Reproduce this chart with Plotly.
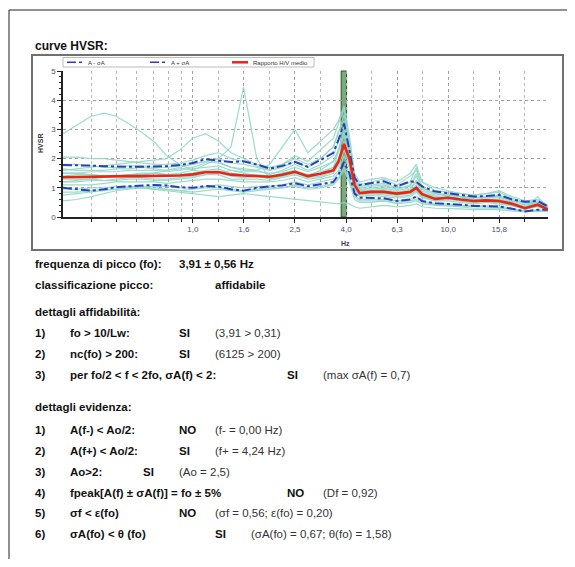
import plotly.graph_objects as go

# ---------------- data ----------------
FREQ = [0.31, 0.35, 0.40, 0.45, 0.50, 0.56, 0.63, 0.71, 0.79, 0.89, 1.0, 1.12, 1.26, 1.41, 1.58,
        1.78, 2.0, 2.24, 2.51, 2.82, 3.16, 3.55, 3.72, 3.91, 4.1, 4.3, 4.5, 5.0, 5.6, 6.3, 7.1,
        7.5, 7.9, 8.9, 10.0, 11.2, 12.6, 14.1, 15.8, 17.8, 20.0, 22.4, 24.6]

HV_MEAN = [1.36, 1.37, 1.39, 1.39, 1.40, 1.40, 1.40, 1.40, 1.40, 1.42, 1.46, 1.53, 1.54, 1.45, 1.42,
           1.41, 1.38, 1.45, 1.55, 1.40, 1.48, 1.60, 1.90, 2.50, 2.00, 1.10, 0.82, 0.86, 0.86, 0.80, 0.86,
           1.00, 0.78, 0.62, 0.66, 0.60, 0.55, 0.57, 0.55, 0.45, 0.30, 0.42, 0.26]
HV_UPPER = [1.78, 1.78, 1.76, 1.74, 1.72, 1.72, 1.72, 1.72, 1.74, 1.78, 1.85, 1.98, 1.93, 1.88, 1.91,
            1.80, 1.66, 1.75, 1.89, 1.72, 1.95, 2.20, 2.65, 3.20, 2.30, 1.35, 1.10, 1.16, 1.22, 1.05, 1.22,
            1.20, 1.05, 0.87, 0.82, 0.75, 0.70, 0.72, 0.76, 0.60, 0.52, 0.55, 0.36]
HV_LOWER = [1.00, 0.95, 0.90, 0.95, 1.02, 1.05, 1.08, 1.10, 1.08, 1.02, 1.00, 1.06, 1.04, 0.95, 0.90,
            1.00, 1.05, 1.08, 1.16, 1.05, 1.12, 1.20, 1.45, 1.89, 1.50, 0.80, 0.66, 0.64, 0.64, 0.55, 0.60,
            0.70, 0.55, 0.47, 0.45, 0.42, 0.38, 0.36, 0.36, 0.28, 0.19, 0.25, 0.25]

W01 = [2.85, 3.15, 3.45, 3.56, 3.45, 3.2, 2.9, 2.55, 2.1, 1.8, 1.6, 1.55, 1.5, 1.6, 1.5, 1.4, 1.3, 1.4, 1.5, 1.35,
       1.5, 1.7, 2.2, 2.8, 2.0, 1.0, 0.8, 0.8, 0.85, 0.75, 0.8, 0.9, 0.7, 0.6, 0.65, 0.55, 0.5, 0.55, 0.5, 0.4, 0.3, 0.4, 0.25]
W02 = [1.5, 1.5, 1.45, 1.4, 1.4, 1.45, 1.5, 1.5, 1.45, 1.5, 1.6, 1.8, 2.0, 2.4, 4.45, 2.0, 1.3, 1.4, 1.5, 1.4,
       1.6, 1.9, 2.3, 3.0, 2.2, 1.2, 0.9, 0.9, 0.9, 0.8, 0.9, 1.1, 0.8, 0.6, 0.7, 0.6, 0.55, 0.6, 0.6, 0.45, 0.3, 0.4, 0.3]
W03 = [0.55, 0.6, 0.7, 0.8, 0.9, 0.95, 1.0, 1.0, 0.95, 0.9, 0.85, 0.9, 0.95, 0.9, 0.85, 0.9, 0.95, 1.0, 1.05, 0.95,
       1.0, 1.1, 1.3, 1.6, 1.2, 0.6, 0.5, 0.5, 0.55, 0.45, 0.5, 0.55, 0.45, 0.4, 0.38, 0.35, 0.3, 0.3, 0.3, 0.25, 0.2, 0.22, 0.2]
W04 = [0.75, 0.8, 0.85, 0.9, 0.95, 1.0, 1.0, 0.95, 0.9, 0.85, 0.8, 0.75, 0.7, 0.75, 0.8, 0.75, 0.7, 0.65, 0.6, 0.55,
       0.5, 0.45, 0.45, 0.5, 0.45, 0.35, 0.3, 0.35, 0.4, 0.35, 0.4, 0.45, 0.35, 0.3, 0.3, 0.28, 0.25, 0.25, 0.25, 0.2, 0.18, 0.2, 0.18]
W05 = [1.6, 1.65, 1.7, 1.75, 1.8, 1.85, 1.9, 1.95, 2.0, 2.3, 2.7, 2.85, 2.6, 2.2, 2.0, 1.8, 1.7, 1.8, 2.0, 1.8,
       2.0, 2.4, 2.9, 3.5, 2.6, 1.4, 1.1, 1.2, 1.3, 1.1, 1.4, 1.6, 1.2, 0.9, 0.85, 0.8, 0.75, 0.8, 0.9, 0.7, 0.55, 0.6, 0.4]
W06 = [2.05, 2.05, 2.0, 2.0, 1.95, 1.9, 1.85, 1.8, 1.8, 1.85, 1.95, 2.1, 2.2, 2.0, 1.9, 1.75, 1.6, 1.8, 2.1, 1.9,
       2.3, 2.7, 3.2, 3.7, 2.5, 1.3, 1.05, 1.1, 1.15, 1.0, 1.2, 1.7, 1.0, 0.8, 0.75, 0.7, 0.7, 0.65, 0.7, 0.55, 0.5, 0.5, 0.35]
W07 = [1.3, 1.3, 1.3, 1.25, 1.3, 1.35, 1.35, 1.3, 1.3, 1.35, 1.4, 1.45, 1.5, 1.4, 1.35, 1.4, 1.35, 1.5, 1.6, 1.35,
       1.4, 1.55, 1.8, 2.4, 1.9, 1.0, 0.8, 0.85, 0.8, 0.75, 0.85, 0.95, 0.75, 0.6, 0.65, 0.6, 0.55, 0.55, 0.5, 0.45, 0.3, 0.45, 0.25]
W08 = [1.5, 1.5, 1.55, 1.55, 1.55, 1.6, 1.6, 1.6, 1.55, 1.6, 1.65, 1.7, 1.75, 1.6, 1.55, 1.55, 1.5, 1.55, 1.7, 1.55,
       1.7, 1.9, 2.3, 2.9, 2.2, 1.2, 0.95, 0.95, 1.0, 0.9, 1.0, 1.25, 0.9, 0.7, 0.75, 0.7, 0.6, 0.65, 0.65, 0.5, 0.35, 0.5, 0.3]
W09 = [1.1, 1.1, 1.1, 1.15, 1.2, 1.2, 1.2, 1.2, 1.15, 1.2, 1.25, 1.3, 1.3, 1.25, 1.2, 1.2, 1.2, 1.25, 1.35, 1.2,
       1.3, 1.4, 1.6, 2.1, 1.7, 0.9, 0.7, 0.75, 0.7, 0.65, 0.7, 0.85, 0.65, 0.55, 0.55, 0.5, 0.45, 0.5, 0.45, 0.38, 0.28, 0.35, 0.22]
W10 = [1.8, 1.8, 1.75, 1.7, 1.7, 1.75, 1.75, 1.7, 1.7, 1.75, 1.8, 1.9, 2.0, 1.85, 1.8, 1.7, 1.6, 1.7, 1.9, 1.7,
       2.0, 2.4, 2.9, 3.3, 2.4, 1.3, 1.0, 1.05, 1.1, 0.95, 1.1, 1.4, 1.0, 0.8, 0.75, 0.72, 0.65, 0.7, 0.75, 0.6, 0.45, 0.5, 0.32]
W11 = [0.95, 0.95, 1.0, 1.0, 1.05, 1.05, 1.05, 1.05, 1.05, 1.0, 1.0, 1.05, 1.1, 1.05, 1.0, 1.05, 1.05, 1.1, 1.2, 1.1,
       1.2, 1.3, 1.5, 1.9, 1.4, 0.75, 0.6, 0.6, 0.6, 0.55, 0.6, 0.7, 0.55, 0.45, 0.45, 0.4, 0.38, 0.38, 0.38, 0.3, 0.2, 0.25, 0.2]
W12 = [1.4, 1.45, 1.45, 1.4, 1.4, 1.45, 1.45, 1.5, 1.45, 1.45, 1.5, 1.6, 1.65, 1.5, 1.45, 1.45, 1.4, 1.5, 1.6, 1.45,
       1.55, 1.7, 2.0, 2.6, 2.1, 1.1, 0.85, 0.9, 0.95, 0.85, 0.95, 1.2, 0.85, 0.65, 0.7, 0.65, 0.6, 0.6, 0.6, 0.5, 0.3, 0.7, 0.3]
W13 = [1.2, 1.25, 1.3, 1.35, 1.4, 1.4, 1.45, 1.5, 1.6, 1.7, 1.8, 1.9, 1.85, 1.7, 1.6, 1.6, 1.8, 2.4, 3.0, 2.2,
       2.6, 3.0, 3.3, 3.8, 2.8, 1.5, 1.2, 1.3, 1.35, 1.2, 1.5, 1.8, 1.2, 1.0, 0.9, 0.8, 0.75, 0.8, 0.85, 0.65, 0.5, 0.55, 0.4]
W14 = [0.85, 0.85, 0.9, 0.95, 0.95, 1.0, 1.0, 0.95, 0.95, 0.9, 0.95, 1.0, 1.0, 0.95, 0.9, 0.95, 1.0, 1.0, 1.1, 1.0,
       1.05, 1.15, 1.35, 1.7, 1.3, 0.7, 0.55, 0.55, 0.55, 0.5, 0.55, 0.6, 0.5, 0.42, 0.4, 0.38, 0.35, 0.35, 0.32, 0.28, 0.2, 0.22, 0.18]
W15 = [1.65, 1.6, 1.6, 1.6, 1.65, 1.65, 1.7, 1.65, 1.6, 1.65, 1.7, 1.85, 1.9, 1.7, 1.65, 1.6, 1.45, 1.6, 1.8, 1.6,
       1.8, 2.1, 2.6, 3.1, 2.3, 1.25, 0.95, 1.0, 1.05, 0.95, 1.05, 1.5, 0.95, 0.75, 0.8, 0.7, 0.65, 0.7, 0.7, 0.55, 0.4, 0.5, 0.3]
W16 = [1.2, 1.2, 1.25, 1.25, 1.25, 1.3, 1.3, 1.25, 1.25, 1.3, 1.35, 1.45, 1.45, 1.3, 1.3, 1.3, 1.25, 1.35, 1.45, 1.3,
       1.35, 1.5, 1.75, 2.3, 1.8, 0.95, 0.75, 0.8, 0.75, 0.7, 0.75, 0.9, 0.7, 0.55, 0.6, 0.55, 0.5, 0.52, 0.5, 0.4, 0.25, 0.38, 0.22]
WINDOWS = [W01, W02, W03, W04, W05, W06, W07, W08, W09, W10, W11, W12, W13, W14, W15, W16]

X_TICKS = [1.0, 1.585, 2.512, 3.981, 6.310, 10.0, 15.85]
X_TICK_TEXT = ["1,0", "1,6", "2,5", "4,0", "6,3", "10,0", "15,8"]
X_MINOR = [0.4, 0.5, 0.6, 0.7, 0.8, 0.9, 1.259, 1.995, 3.162, 5.012, 7.943, 12.59, 19.95]
PEAK_BAND = [3.81, 4.0]
LEGEND_LABELS = ["A - \u03c3A", "A + \u03c3A", "Rapporto H/V medio"]

# ---------------- geometry (page pixel coordinates) ----------------
BODY = 8                      # default html body margin
W, H = 559, 551               # figure size so that page = 575 x 567
PX0, PX1, PY0, PY1 = 63, 548, 71, 217   # plot area in page pixels


def px(x):
    return (x - PX0) / (PX1 - PX0)


def py(y):
    return (PY1 - y) / (PY1 - PY0)


FONT = "Liberation Sans, Arial, sans-serif"
TEAL = "#93d8c6"
BLUE = "#2a3fbf"
RED = "#ec2416"

fig = go.Figure()

for w in WINDOWS:
    fig.add_trace(go.Scatter(x=FREQ, y=w, mode="lines", line=dict(color=TEAL, width=1.2),
                             opacity=0.9, showlegend=False, hoverinfo="skip"))

fig.add_trace(go.Scatter(x=FREQ, y=HV_LOWER, mode="lines", name=LEGEND_LABELS[0],
                         line=dict(color=BLUE, width=2, dash="dashdot"), showlegend=False))
fig.add_trace(go.Scatter(x=FREQ, y=HV_UPPER, mode="lines", name=LEGEND_LABELS[1],
                         line=dict(color=BLUE, width=2, dash="dashdot"), showlegend=False))
fig.add_trace(go.Scatter(x=FREQ, y=HV_MEAN, mode="lines", name=LEGEND_LABELS[2],
                         line=dict(color=RED, width=2.6), showlegend=False))

P = dict(xref="paper", yref="paper")
shapes = []
shapes.append(dict(type="rect", xref="x", yref="paper", x0=PEAK_BAND[0], x1=PEAK_BAND[1], y0=0, y1=1,
                   fillcolor="rgba(70,130,70,0.7)", line=dict(color="#1f5a1f", width=1), layer="below"))
shapes.append(dict(type="rect", **P, x0=px(32), x1=px(563), y0=py(250), y1=py(55),
                   line=dict(color="#707070", width=2), fillcolor="rgba(0,0,0,0)", layer="below"))
shapes.append(dict(type="line", **P, x0=px(9), x1=px(580), y0=py(10), y1=py(10),
                   line=dict(color="#222", width=1)))
shapes.append(dict(type="line", **P, x0=px(9), x1=px(9), y0=py(10), y1=py(580),
                   line=dict(color="#222", width=1)))
shapes.append(dict(type="rect", **P, x0=px(63), x1=px(314), y0=py(67), y1=py(57.5),
                   line=dict(color="#bbbbbb", width=1), fillcolor="white"))
leg_x = [67, 150, 232]
leg_style = [dict(color=BLUE, width=1.5, dash="dashdot"), dict(color=BLUE, width=1.5, dash="dashdot"),
             dict(color=RED, width=2.5)]
for lx, st in zip(leg_x, leg_style):
    shapes.append(dict(type="line", **P, x0=px(lx), x1=px(lx + 16), y0=py(62.3), y1=py(62.3), line=st))

ann = []
for lx, lab in zip(leg_x, LEGEND_LABELS):
    ann.append(dict(**P, x=px(lx + 19), y=py(62.5), text=lab, showarrow=False, xanchor="left",
                    yanchor="middle", font=dict(family=FONT, size=6, color="#333")))

ann.append(dict(**P, x=px(345), y=py(243), text="<b>Hz</b>", showarrow=False, xanchor="center",
                yanchor="middle", font=dict(family=FONT, size=7, color="#3a3a6a")))
ann.append(dict(**P, x=px(40), y=py(144), text="<b>HVSR</b>", showarrow=False, textangle=-90,
                xanchor="center", yanchor="middle", font=dict(family=FONT, size=7, color="#333")))

BODY_SIZE = 11.5


def txt(x, y, s, bold=True, size=BODY_SIZE, color="#111"):
    ann.append(dict(**P, x=px(x), y=py(y), text=("<b>%s</b>" % s) if bold else s, showarrow=False,
                    xanchor="left", yanchor="middle", font=dict(family=FONT, size=size, color=color)))


# tab stops of the report text (page pixels)
T0, T1, T3, T4, T5, T6, T7, T8 = 33, 68, 141, 177, 213, 249, 285, 321

txt(T0, 46, "curve HVSR:", size=12)
txt(T0, 264, "frequenza di picco (fo):")
txt(T4, 264, "3,91 \u00b1 0,56 Hz")
txt(T0, 285, "classificazione picco:")
txt(T5, 285, "affidabile")
txt(T0, 312, "dettagli affidabilit\u00e0:")

GRAY = "#333"
rows_a = [
    (333, "1)", "fo &gt; 10/Lw:", T4, "SI", T5, "(3,91 &gt; 0,31)"),
    (354, "2)", "nc(fo) &gt; 200:", T4, "SI", T5, "(6125 &gt; 200)"),
    (375, "3)", "per fo/2 &lt; f &lt; 2fo, \u03c3A(f) &lt; 2:", T7, "SI", T8, "(max \u03c3A(f) = 0,7)"),
]
for y, n, crit, xs, res, xp, par in rows_a:
    txt(T0, y, n)
    txt(T1, y, crit)
    txt(xs, y, res)
    txt(xp, y, par, bold=False, color=GRAY)

txt(T0, 407, "dettagli evidenza:")
rows_e = [
    (430, "1)", "A(f-) &lt; Ao/2:", T4, "NO", T5, "(f- = 0,00 Hz)"),
    (451, "2)", "A(f+) &lt; Ao/2:", T4, "SI", T5, "(f+ = 4,24 Hz)"),
    (472, "3)", "Ao&gt;2:", T3, "SI", T4, "(Ao = 2,5)"),
    (493, "4)", "fpeak[A(f) \u00b1 \u03c3A(f)] = fo \u00b1 5%", T7, "NO", T8, "(Df = 0,92)"),
    (513, "5)", "\u03c3f &lt; \u03b5(fo)", T4, "NO", T5, "(\u03c3f = 0,56; \u03b5(fo) = 0,20)"),
    (534, "6)", "\u03c3A(fo) &lt; \u03b8 (fo)", T5, "SI", T6, "(\u03c3A(fo) = 0,67; \u03b8(fo) = 1,58)"),
]
for y, n, crit, xs, res, xp, par in rows_e:
    txt(T0, y, n)
    txt(T1, y, crit)
    txt(xs, y, res)
    txt(xp, y, par, bold=False, color=GRAY)

fig.update_layout(
    width=W, height=H,
    margin=dict(l=PX0 - BODY, r=W - (PX1 - BODY), t=PY0 - BODY, b=H - (PY1 - BODY), pad=0),
    paper_bgcolor="white", plot_bgcolor="white",
    showlegend=False,
    shapes=shapes, annotations=ann,
    font=dict(family=FONT),
)
fig.update_xaxes(
    type="log", range=[-0.5086, 1.391],
    tickmode="array", tickvals=X_TICKS, ticktext=X_TICK_TEXT,
    tickfont=dict(size=8, color="#4a4a78"), ticks="outside", ticklen=4, tickcolor="#222",
    showline=True, linecolor="#222", linewidth=1.5, mirror=False,
    showgrid=True, gridcolor="#a0a0a0", griddash="dot", gridwidth=1,
    minor=dict(tickvals=X_MINOR, ticks="outside", ticklen=3, tickcolor="#222",
               showgrid=True, gridcolor="#b8b8b8", griddash="dot", gridwidth=1),
    zeroline=False,
)
fig.update_yaxes(
    range=[0, 5], tickmode="array", tickvals=[0, 1, 2, 3, 4, 5],
    tickfont=dict(size=8, color="#555"), ticks="outside", ticklen=4, tickcolor="#222",
    showline=True, linecolor="#222", linewidth=1.5, mirror=False,
    showgrid=True, gridcolor="#a0a0a0", griddash="dot", gridwidth=1,
    minor=dict(dtick=0.2, ticks="outside", ticklen=2, tickcolor="#222", showgrid=False),
    zeroline=False,
)

fig.write_html("out.html")
